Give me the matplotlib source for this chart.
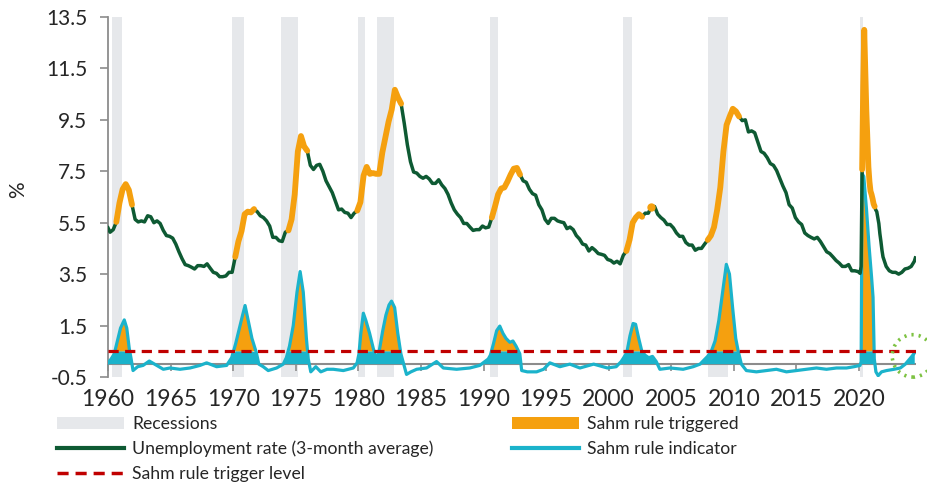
"""
Sahm rule chart: US unemployment rate (3-month average) with the Sahm rule
indicator, recession bands and the 0.5 pp trigger level.
"""
import numpy as np
import matplotlib
matplotlib.use("Agg")
import matplotlib.pyplot as plt
from matplotlib.patches import Patch, Ellipse
from matplotlib.lines import Line2D
from matplotlib.ticker import FormatStrFormatter

plt.rcParams["font.family"] = ["Lato", "DejaVu Sans"]

COLORS = {
    "recession": "#E6E8EB",
    "unemp": "#0E5A33",
    "trig": "#F5A00F",
    "sahm": "#1BB3CB",
    "trigger_level": "#C00000",
    "axis": "#8C8C8C",
    "text": "#262626",
    "circle": "#7DC242",
}

# NBER recessions (start, end) in fractional years
recession_start = [1960.29, 1969.92, 1973.83, 1980.0, 1981.5, 1990.5, 2001.17, 2007.92, 2020.08]
recession_end = [1961.08, 1970.83, 1975.17, 1980.5, 1982.83, 1991.17, 2001.83, 2009.5, 2020.29]

# periods where the Sahm rule is triggered (orange on the unemployment line)
trig_start = [1960.45, 1969.95, 1974.35, 1979.9, 1981.6, 1990.6, 2001.3, 2003.35, 2007.9, 2020.2]
trig_end = [1961.95, 1971.75, 1975.95, 1981.45, 1983.45, 1992.95, 2002.75, 2003.5, 2010.45, 2021.3]

# unemployment rate, 3-month average, quarterly (Mar/Jun/Sep/Dec), 1960-2019
unemp_quarterly = [
    5.13, 5.23, 5.53, 6.27,   # 1960
    6.80, 7.00, 6.77, 6.20,   # 1961
    5.63, 5.53, 5.57, 5.53,   # 1962
    5.77, 5.73, 5.50, 5.57,   # 1963
    5.47, 5.20, 5.00, 4.97,   # 1964
    4.90, 4.67, 4.37, 4.10,   # 1965
    3.87, 3.83, 3.77, 3.70,   # 1966
    3.83, 3.83, 3.80, 3.90,   # 1967
    3.73, 3.57, 3.53, 3.40,   # 1968
    3.40, 3.43, 3.57, 3.57,   # 1969
    4.17, 4.77, 5.17, 5.83,   # 1970
    5.93, 5.90, 6.03, 5.93,   # 1971
    5.77, 5.70, 5.57, 5.37,   # 1972
    4.93, 4.93, 4.80, 4.77,   # 1973
    5.13, 5.20, 5.63, 6.60,   # 1974
    8.27, 8.87, 8.47, 8.30,   # 1975
    7.73, 7.57, 7.73, 7.77,   # 1976
    7.50, 7.13, 6.90, 6.67,   # 1977
    6.33, 6.00, 6.03, 5.90,   # 1978
    5.87, 5.70, 5.87, 5.97,   # 1979
    6.30, 7.33, 7.67, 7.40,   # 1980
    7.43, 7.40, 7.40, 8.23,   # 1981
    8.83, 9.43, 9.90, 10.67,  # 1982
    10.37, 10.13, 9.37, 8.53,  # 1983
    7.87, 7.47, 7.43, 7.30,   # 1984
    7.23, 7.30, 7.20, 7.03,   # 1985
    7.03, 7.17, 6.97, 6.83,   # 1986
    6.60, 6.27, 6.00, 5.83,   # 1987
    5.70, 5.47, 5.47, 5.33,   # 1988
    5.20, 5.23, 5.23, 5.37,   # 1989
    5.30, 5.33, 5.70, 6.13,   # 1990
    6.60, 6.83, 6.87, 7.10,   # 1991
    7.37, 7.60, 7.63, 7.37,   # 1992
    7.13, 7.07, 6.80, 6.63,   # 1993
    6.57, 6.20, 6.00, 5.63,   # 1994
    5.47, 5.67, 5.67, 5.57,   # 1995
    5.53, 5.50, 5.27, 5.33,   # 1996
    5.23, 5.00, 4.87, 4.67,   # 1997
    4.63, 4.40, 4.53, 4.43,   # 1998
    4.30, 4.27, 4.23, 4.07,   # 1999
    4.03, 3.93, 4.00, 3.90,   # 2000
    4.23, 4.40, 4.83, 5.50,   # 2001
    5.70, 5.83, 5.73, 5.87,   # 2002
    5.87, 6.13, 6.13, 5.83,   # 2003
    5.70, 5.60, 5.43, 5.43,   # 2004
    5.30, 5.10, 4.97, 4.97,   # 2005
    4.73, 4.63, 4.63, 4.43,   # 2006
    4.50, 4.50, 4.67, 4.83,   # 2007
    5.00, 5.33, 6.00, 6.87,   # 2008
    8.27, 9.30, 9.63, 9.93,   # 2009
    9.83, 9.63, 9.47, 9.50,   # 2010
    9.03, 9.07, 9.00, 8.63,   # 2011
    8.27, 8.20, 8.03, 7.80,   # 2012
    7.73, 7.53, 7.23, 6.93,   # 2013
    6.67, 6.20, 6.07, 5.70,   # 2014
    5.53, 5.43, 5.10, 5.00,   # 2015
    4.93, 4.87, 4.93, 4.77,   # 2016
    4.57, 4.37, 4.30, 4.17,   # 2017
    4.03, 3.93, 3.80, 3.80,   # 2018
    3.87, 3.63, 3.63, 3.60,   # 2019
]

# monthly 3-month averages through the pandemic, Jan 2020 - Dec 2021
unemp_monthly = [
    3.57, 3.53, 3.80, 7.57, 10.80, 13.00, 11.47, 9.87, 8.80, 7.67, 7.10, 6.73,
    6.60, 6.43, 6.23, 6.13, 6.00, 5.93, 5.70, 5.47, 5.07, 4.77, 4.43, 4.17,
]

# quarterly 2022Q1 - 2024Q2, then July 2024
unemp_tail_dates = [2022.17, 2022.42, 2022.67, 2022.92, 2023.17, 2023.42,
                    2023.67, 2023.92, 2024.17, 2024.42, 2024.5]
unemp_tail = [3.80, 3.63, 3.57, 3.57, 3.50, 3.57, 3.70, 3.73, 3.80, 4.00, 4.13]

# Sahm rule indicator
sahm_dates = [
    1960.0, 1960.25, 1960.5, 1960.75, 1961.0, 1961.3, 1961.5, 1961.7, 1961.85,
    1962.0, 1962.37, 1962.8, 1963.3, 1963.9, 1964.42, 1964.95, 1965.75, 1966.55,
    1967.35, 1967.88, 1968.68, 1969.48, 1969.88, 1970.2, 1970.5, 1970.75,
    1970.95, 1971.2, 1971.5, 1971.85, 1972.05, 1972.4, 1972.8, 1973.47,
    1974.0, 1974.25, 1974.5, 1974.8, 1975.1, 1975.35, 1975.6, 1975.85, 1976.0,
    1976.2, 1976.6, 1977.0, 1977.5, 1978.0, 1978.8, 1979.6, 1979.9, 1980.05,
    1980.2, 1980.4, 1980.6, 1980.9, 1981.2, 1981.4, 1981.5, 1981.7, 1981.95,
    1982.2, 1982.45, 1982.65, 1982.9, 1983.15, 1983.4, 1983.6, 1983.85,
    1984.2, 1984.66, 1985.45, 1986.25, 1986.79, 1987.85, 1988.9, 1989.7,
    1990.38, 1990.55, 1990.8, 1991.05, 1991.3, 1991.55, 1991.8, 1992.1,
    1992.35, 1992.6, 1992.9, 1993.05, 1993.5, 1994.24, 1994.8, 1995.3, 1996.1,
    1996.9, 1997.7, 1998.8, 1999.9, 2000.6, 2001.0, 2001.2, 2001.45, 2001.7,
    2001.95, 2002.15, 2002.4, 2002.65, 2002.9, 2003.2, 2003.5, 2003.8, 2004.09,
    2004.9, 2005.95, 2006.75, 2007.3, 2007.6, 2007.9, 2008.2, 2008.5, 2008.8,
    2009.1, 2009.4, 2009.65, 2009.9, 2010.15, 2010.35, 2010.6, 2011.0, 2011.8,
    2012.6, 2013.4, 2014.2, 2015.0, 2015.8, 2016.6, 2017.4, 2018.2, 2019.0,
    2019.6, 2020.08, 2020.17, 2020.25, 2020.38, 2020.6, 2020.8, 2021.0,
    2021.12, 2021.22, 2021.35, 2021.53, 2021.8, 2022.2, 2022.8, 2023.3,
    2023.7, 2024.05, 2024.3, 2024.45,
]
sahm_values = [
    0.05, 0.20, 0.40, 0.90, 1.40, 1.72, 1.40, 0.60, 0.20,
    -0.25, -0.10, -0.05, 0.12, -0.05, -0.20, -0.15, -0.20, -0.15,
    -0.05, 0.05, -0.10, -0.05, 0.25, 0.80, 1.40, 1.90,
    2.28, 1.70, 1.00, 0.45, 0.00, -0.10, -0.25, -0.15,
    0.00, 0.25, 0.70, 1.50, 2.80, 3.60, 2.80, 1.00, 0.20,
    -0.30, -0.10, -0.30, -0.20, -0.20, -0.25, -0.15, 0.05, 0.40,
    1.20, 1.98, 1.70, 1.20, 0.60, 0.30, 0.10, 0.60, 1.30,
    1.90, 2.30, 2.45, 2.20, 1.20, 0.40, 0.05, -0.40,
    -0.30, -0.20, -0.15, 0.10, -0.15, -0.20, -0.15, -0.05,
    0.20, 0.35, 0.80, 1.30, 1.48, 1.20, 1.00, 0.85,
    0.90, 0.70, 0.40, -0.25, -0.30, -0.30, -0.20, 0.05, -0.10,
    0.00, -0.15, 0.00, -0.15, -0.10, 0.10, 0.25, 0.45, 1.10,
    1.58, 1.55, 1.00, 0.50, 0.35, 0.25, 0.30, 0.10, -0.20,
    -0.15, -0.20, -0.10, 0.00, 0.15, 0.30, 0.50, 0.90, 1.70,
    2.80, 3.88, 3.50, 2.20, 1.00, 0.50, 0.00, -0.25, -0.30,
    -0.25, -0.20, -0.30, -0.25, -0.20, -0.15, -0.20, -0.15, -0.15,
    -0.10, -0.05, 0.10, 7.40, 7.30, 6.00, 4.60, 3.40,
    2.60, 0.20, -0.30, -0.45, -0.30, -0.25, -0.20, -0.15,
    0.00, 0.20, 0.35, 0.45,
]

TRIGGER_LEVEL = 0.5
X_TICKS = list(range(1960, 2021, 5))
Y_TICKS = [-0.5, 1.5, 3.5, 5.5, 7.5, 9.5, 11.5, 13.5]

# --- assemble the unemployment series ---
n_years = len(unemp_quarterly) // 4
q_dates = np.repeat(np.arange(1960, 1960 + n_years), 4) + np.tile([2, 5, 8, 11], n_years) / 12
m_dates = np.repeat([2020, 2021], 12) + np.tile(np.arange(12), 2) / 12
u_dates = np.concatenate([[1960.0], q_dates, m_dates, unemp_tail_dates])
u_vals = np.concatenate([[5.3], unemp_quarterly, unemp_monthly, unemp_tail])

in_trigger = np.zeros(len(u_dates), dtype=bool)
for s, e in zip(trig_start, trig_end):
    in_trigger |= (u_dates >= s) & (u_dates <= e)
u_trig = np.where(in_trigger, u_vals, np.nan)
# single triggered months have no segment to draw, show them as a dot
prev_on = np.concatenate([[False], in_trigger[:-1]])
next_on = np.concatenate([in_trigger[1:], [False]])
isolated = in_trigger & ~prev_on & ~next_on

sd = np.array(sahm_dates)
sv = np.array(sahm_values)

# --- figure ---
fig = plt.figure(figsize=(9.27, 4.84), dpi=100)
ax = fig.add_axes([0.1165, 0.2211, 0.8716, 0.7438])

for s, e in zip(recession_start, recession_end):
    ax.axvspan(s, e, color=COLORS["recession"], lw=0, zorder=0)

ax.axhline(0, color=COLORS["axis"], lw=1.5, zorder=1)

# Sahm indicator area: cyan up to the trigger level, orange above it
ax.fill_between(sd, 0, np.minimum(sv, TRIGGER_LEVEL), where=sv > 0,
                color=COLORS["sahm"], lw=0, interpolate=True, zorder=2)
ax.fill_between(sd, TRIGGER_LEVEL, sv, where=sv > TRIGGER_LEVEL,
                color=COLORS["trig"], lw=0, interpolate=True, zorder=2)
ax.plot(sd, sv, color=COLORS["sahm"], lw=2.3, solid_joinstyle="round", zorder=3)

ax.plot(u_dates, u_vals, color=COLORS["unemp"], lw=2.5, solid_joinstyle="round", zorder=4)
ax.plot(u_dates, u_trig, color=COLORS["trig"], lw=4.2,
        solid_capstyle="round", solid_joinstyle="round", zorder=5)
ax.plot(u_dates[isolated], u_vals[isolated], "o", color=COLORS["trig"], ms=5, zorder=5)

ax.axhline(TRIGGER_LEVEL, color=COLORS["trigger_level"], lw=2.3,
           ls=(0, (3.2, 2.0)), zorder=6)

# dotted circle highlighting the latest reading
ax.add_patch(Ellipse((2024.3, 0.32), 3.3, 1.65, fill=False, ec=COLORS["circle"],
                     lw=2.6, ls=(0, (0.6, 1.4)), clip_on=False, zorder=7))

# --- axes styling ---
ax.set_xlim(1960, 2024.55)
ax.set_ylim(-0.5, 13.5)
ax.set_yticks(Y_TICKS)
ax.yaxis.set_major_formatter(FormatStrFormatter("%.1f"))
ax.set_xticks(X_TICKS)
for side in ["top", "right", "bottom"]:
    ax.spines[side].set_visible(False)
ax.spines["left"].set_color(COLORS["axis"])
ax.spines["left"].set_linewidth(1.3)
ax.tick_params(axis="y", length=6, width=1.2, color=COLORS["axis"],
               labelsize=15, pad=9, labelcolor=COLORS["text"])
ax.tick_params(axis="x", length=0, labelsize=16.5, pad=9, labelcolor=COLORS["text"])

# small downward ticks on the zero line
sec = ax.secondary_xaxis(0.5 / 14)
sec.set_xticks(X_TICKS)
sec.tick_params(length=5, width=1.2, color=COLORS["axis"], labelbottom=False)
sec.spines["bottom"].set_visible(False)

fig.text(18 / 927, 1 - 190 / 484, "%", rotation=90, ha="center", va="center",
         fontsize=15, color=COLORS["text"])

# --- legend (two blocks, like the original) ---
leg_kw = dict(frameon=False, fontsize=12.7, handlelength=3.8, handletextpad=0.45,
              labelspacing=0.5, borderpad=0, borderaxespad=0, loc="upper left",
              labelcolor=COLORS["text"])
left_handles = [
    Patch(facecolor=COLORS["recession"], edgecolor="none"),
    Line2D([], [], color=COLORS["unemp"], lw=3),
    Line2D([], [], color=COLORS["trigger_level"], lw=2.5, ls=(0, (3.2, 2.0))),
]
left_labels = ["Recessions", "Unemployment rate (3-month average)", "Sahm rule trigger level"]
right_handles = [
    Patch(facecolor=COLORS["trig"], edgecolor="none"),
    Line2D([], [], color=COLORS["sahm"], lw=3),
]
right_labels = ["Sahm rule triggered", "Sahm rule indicator"]
fig.legend(left_handles, left_labels, bbox_to_anchor=(57 / 927, 1 - 416 / 484), **leg_kw)
fig.legend(right_handles, right_labels, bbox_to_anchor=(512 / 927, 1 - 416 / 484), **leg_kw)

fig.savefig("out.png", dpi=100)
